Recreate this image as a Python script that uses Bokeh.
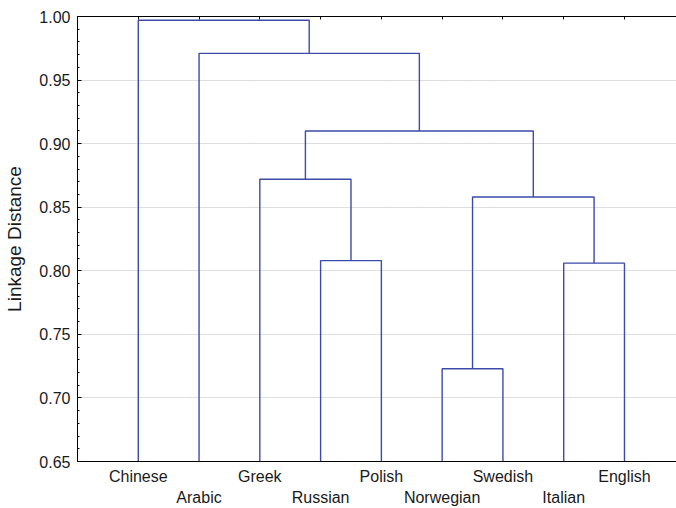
import numpy as np
from bokeh.plotting import figure
from bokeh.models import Range1d, FixedTicker, LinearAxis, PrintfTickFormatter, Grid
from bokeh.embed import file_html
from bokeh.resources import INLINE

# ---- data ----
leaves = ["Chinese", "Arabic", "Greek", "Russian", "Polish",
          "Norwegian", "Swedish", "Italian", "English"]
# merges (scipy-like): node n+k joins merge_a[k] and merge_b[k] at merge_height[k]
merge_a = [3, 5, 7, 2, 10, 12, 1, 0]
merge_b = [4, 6, 8, 9, 11, 13, 14, 15]
merge_height = [0.808, 0.723, 0.806, 0.872, 0.858, 0.910, 0.971, 0.997]
y_ticks = [0.65, 0.70, 0.75, 0.80, 0.85, 0.90, 0.95, 1.00]
y_label = "Linkage Distance"

FONT = "Liberation Sans"
LINE = "#3C4BAA"
TXT = "#1a1a1a"
Y0 = y_ticks[0]

n = len(leaves)
leaf_x = list(range(1, n + 1))
xpos = {i: leaf_x[i] for i in range(n)}
hpos = {i: Y0 for i in range(n)}
xs, ys = [], []
for k, (a, b, h) in enumerate(zip(merge_a, merge_b, merge_height)):
    xs.append([xpos[a], xpos[a], xpos[b], xpos[b]])
    ys.append([hpos[a], h, h, hpos[b]])
    xpos[n + k] = (xpos[a] + xpos[b]) / 2
    hpos[n + k] = h

p = figure(width=676, height=508,
           x_range=Range1d(0, 9.856), y_range=Range1d(y_ticks[0], y_ticks[-1]),
           output_backend="svg", toolbar_location=None,
           x_axis_location=None, y_axis_location=None,
           min_border_left=77, min_border_right=0, min_border_top=16,
           min_border_bottom=45)
p.outline_line_color = None
p.background_fill_color = "white"
p.border_fill_color = "white"
# drop the default grids
p.center = [r for r in p.center if not isinstance(r, Grid)]

# left axis
minor = list(np.round(np.arange(y_ticks[0], y_ticks[-1] + 1e-9, 0.01), 2))
yax = LinearAxis(ticker=FixedTicker(ticks=y_ticks, minor_ticks=minor),
                 formatter=PrintfTickFormatter(format="%.2f"),
                 axis_label=y_label)
yax.axis_line_color = "black"
yax.major_tick_in = 4
yax.major_tick_out = 0
yax.minor_tick_in = 2
yax.minor_tick_out = 0
yax.major_label_standoff = 7
yax.axis_label_standoff = 11
yax.major_label_text_font = FONT
yax.major_label_text_font_size = "16px"
yax.major_label_text_color = TXT
yax.axis_label_text_font = FONT
yax.axis_label_text_font_size = "19px"
yax.axis_label_text_font_style = "normal"
yax.axis_label_text_color = TXT
p.add_layout(yax, "left")

p.add_layout(Grid(dimension=1, ticker=yax.ticker, grid_line_color="#bdbdbd",
                  grid_line_dash="1 1", grid_line_width=1))

# top axis (ticks only)
tax = LinearAxis(ticker=FixedTicker(ticks=leaf_x),
                 major_label_overrides={x: "" for x in leaf_x})
tax.axis_line_color = "black"
tax.major_tick_in = 3
tax.major_tick_out = 0
tax.major_label_standoff = 0
p.add_layout(tax, "above")

# bottom axes: two rows of labels
def bottom_axis(idx, with_line, standoff):
    ax = LinearAxis(ticker=FixedTicker(ticks=[leaf_x[i] for i in idx]),
                    major_label_overrides={leaf_x[i]: leaves[i] for i in idx})
    ax.axis_line_color = "black" if with_line else None
    ax.major_tick_in = 0
    ax.major_tick_out = 0
    ax.major_tick_line_color = None
    ax.major_label_standoff = standoff
    ax.major_label_text_font = FONT
    ax.major_label_text_font_size = "16px"
    ax.major_label_text_color = TXT
    return ax

p.add_layout(bottom_axis(range(0, n, 2), True, 6), "below")
p.add_layout(bottom_axis(range(1, n, 2), False, 1), "below")

p.multi_line(xs, ys, line_color=LINE, line_width=1.4)

open("out.html", "w").write(file_html(p, INLINE))
